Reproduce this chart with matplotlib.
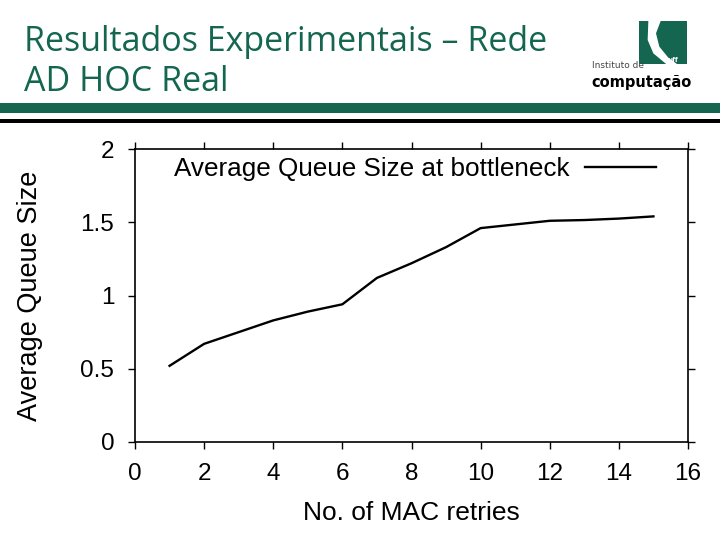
import matplotlib
matplotlib.use("Agg")
import matplotlib.pyplot as plt
from matplotlib.patches import Rectangle, Polygon

retries = [1, 2, 3, 4, 5, 6, 7, 8, 9, 10, 11, 12, 13, 14, 15]
queue_size = [0.52, 0.67, 0.75, 0.83, 0.89, 0.94, 1.12, 1.22, 1.33, 1.46,
              1.485, 1.51, 1.515, 1.525, 1.54]
xticks = [0, 2, 4, 6, 8, 10, 12, 14, 16]
yticks = [0, 0.5, 1, 1.5, 2]
ytick_labels = ["0", "0.5", "1", "1.5", "2"]

green = "#146650"
plt.rcParams['font.family'] = ['Liberation Sans', 'DejaVu Sans']

fig = plt.figure(figsize=(7.2, 5.4), dpi=100)

def px(x, y):
    return (x / 720, 1 - y / 540)

# header
fig.text(*px(24, 62), "Resultados Experimentais – Rede\nAD HOC Real",
         color=green, fontsize=24.5, family=['Open Sans', 'DejaVu Sans'],
         va='center', ha='left', linespacing=1.2)
fig.patches.append(Rectangle(px(0, 113), 1, 10 / 540, transform=fig.transFigure,
                             facecolor=green, edgecolor='none'))
fig.patches.append(Rectangle(px(0, 123), 1, 4 / 540, transform=fig.transFigure,
                             facecolor='black', edgecolor='none'))

# logo
fig.patches.append(Rectangle(px(639, 64), 48 / 720, 43 / 540, transform=fig.transFigure,
                             facecolor=green, edgecolor='none'))
swoosh = [(205, 18), (242, 18), (228, 55), (238, 95), (265, 128), (295, 150),
          (262, 150), (220, 115), (203, 75)]
fig.patches.append(Polygon([px(580 + zx / 3, 15 + zy / 3) for zx, zy in swoosh],
                           closed=True, transform=fig.transFigure,
                           facecolor='white', edgecolor='none'))
fig.text(*px(668, 61), "uff", fontsize=6, color='white', weight='bold',
         va='center', ha='left')
fig.text(*px(592, 65), "Instituto de", fontsize=6.5, color='#444444',
         family=['DejaVu Sans Condensed', 'DejaVu Sans'], va='center', ha='left')
fig.text(*px(591, 82), "computação", fontsize=10.5, color='black', weight='bold',
         family=['DejaVu Sans Condensed', 'DejaVu Sans'], va='center', ha='left')

# chart
ax = fig.add_axes([135 / 720, 1 - 442 / 540, 553 / 720, 293 / 540])
ax.plot(retries, queue_size, color='black', lw=1.7, label="Average Queue Size at bottleneck")
ax.set_xlim(0, 16)
ax.set_ylim(0, 2)
ax.set_xticks(xticks)
ax.set_yticks(yticks)
ax.set_yticklabels(ytick_labels)
ax.tick_params(direction='out', length=5, width=1, labelsize=17.5, top=True, right=True)
ax.tick_params(axis='y', pad=10)
ax.tick_params(axis='x', pad=10)
for s in ax.spines.values():
    s.set_linewidth(1.2)
ax.set_xlabel("No. of MAC retries", fontsize=19, labelpad=12)
ax.set_ylabel("Average Queue Size", fontsize=19.5, labelpad=27)
ax.legend(loc='upper right', frameon=False, markerfirst=False, fontsize=18.8,
          handlelength=2.7, handletextpad=0.6, bbox_to_anchor=(0.97, 1.025), borderaxespad=0.2)

fig.savefig("out.png", dpi=100)
